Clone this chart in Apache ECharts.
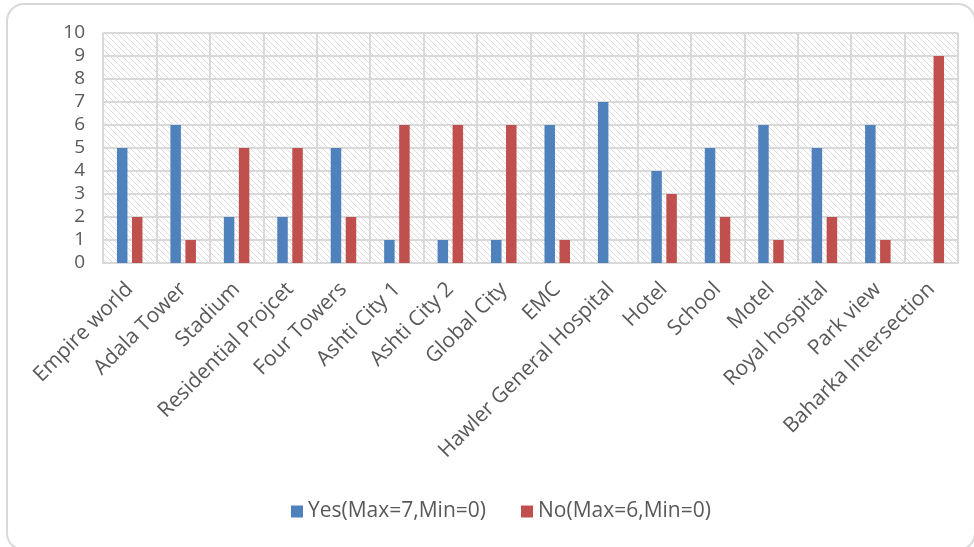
<!DOCTYPE html>
<html>
<head>
<meta charset="utf-8">
<script src="https://cdn.jsdelivr.net/npm/echarts@6/dist/echarts.min.js"></script>
<style>
html,body{margin:0;padding:0;background:#fff;overflow:hidden;}
#frame{position:absolute;left:6px;top:3px;width:970px;height:548px;border:2px solid #d9d9d9;border-radius:18px;box-sizing:border-box;}
#chart{position:absolute;left:0;top:0;width:974px;height:547px;}
</style>
</head>
<body>
<div id="frame"></div>
<div id="chart"></div>
<script>
var categories = ["Empire world","Adala Tower","Stadium","Residential Projcet","Four Towers","Ashti City 1","Ashti City 2","Global City","EMC","Hawler General Hospital","Hotel","School","Motel","Royal hospital","Park view","Baharka Intersection"];
var yesValues = [5,6,2,2,5,1,1,1,6,7,4,5,6,5,6,0];
var noValues  = [2,1,5,5,2,6,6,6,1,0,3,2,1,2,1,9];
var seriesNames = ["Yes(Max=7,Min=0)","No(Max=6,Min=0)"];
var yTicks = {min:0, max:10, interval:1};

function makePattern(){
  var c = document.createElement('canvas');
  c.width = 6; c.height = 6;
  var ctx = c.getContext('2d');
  ctx.fillStyle = '#ffffff';
  ctx.fillRect(0,0,6,6);
  ctx.fillStyle = '#dcdcdc';
  for (var i=0;i<6;i++){
    ctx.fillRect(i, i, 1, 1);
  }
  return c;
}

var font = '"Open Sans", sans-serif';
var chart = echarts.init(document.getElementById('chart'), null, {renderer:'canvas'});
chart.setOption({
  backgroundColor: 'transparent',
  animation: false,
  grid: {left:103, right:16, top:33, bottom:284, show:true, borderWidth:0,
         backgroundColor: {image: makePattern(), repeat:'repeat'}},
  legend: {
    data: seriesNames, bottom: 20, left: 286, itemWidth: 12, itemHeight: 12, itemGap: 35,
    icon: 'rect',
    textStyle: {fontFamily: font, fontSize: 21, color:'#595959'}
  },
  xAxis: {
    type:'category', data: categories,
    axisLine:{show:true, lineStyle:{color:'#d9d9d9', width:2}},
    axisTick:{show:false},
    splitLine:{show:true, interval:0, lineStyle:{color:'#d9d9d9', width:2}},
    axisLabel:{interval:0, rotate:45, margin:23, fontFamily: font, fontSize:21, color:'#595959'}
  },
  yAxis: {
    type:'value', min:yTicks.min, max:yTicks.max, interval:yTicks.interval,
    axisLine:{show:false}, axisTick:{show:false},
    splitLine:{show:true, lineStyle:{color:'#d9d9d9', width:2}},
    axisLabel:{fontFamily: font, fontSize:19, color:'#595959', margin:18}
  },
  series: [
    {name:seriesNames[0], type:'bar', data:yesValues, barWidth:10.5, barGap:'43%',
     itemStyle:{color:'#4f81bd'}},
    {name:seriesNames[1], type:'bar', data:noValues, barWidth:10.5,
     itemStyle:{color:'#c0504d'}}
  ]
});
</script>
</body>
</html>
